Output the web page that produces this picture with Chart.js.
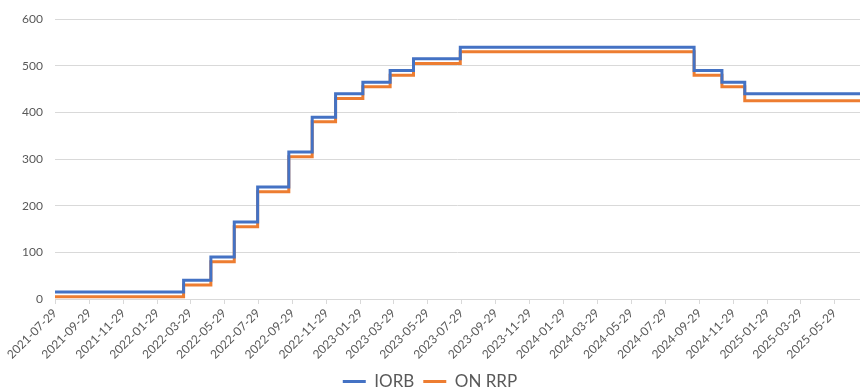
<!DOCTYPE html>
<html>
<head>
<meta charset="utf-8">
<script src="https://cdn.jsdelivr.net/npm/chart.js@4/dist/chart.umd.min.js"></script>
<style>
html,body{margin:0;padding:0;background:#fff;overflow:hidden;}
#wrap{position:relative;width:860px;height:400px;}
</style>
</head>
<body>
<div id="wrap"><canvas id="c"></canvas></div>
<script>
// Policy change dates and rates (basis points)
const changeDates = ["2021-07-29","2022-03-17","2022-05-05","2022-06-16","2022-07-28","2022-09-22","2022-11-03","2022-12-15","2023-02-02","2023-03-23","2023-05-04","2023-07-27","2024-09-19","2024-11-08","2024-12-19","2025-07-14"];
const iorb  = [15,40,90,165,240,315,390,440,465,490,515,540,490,465,440,440];
const onrrp = [5,30,80,155,230,305,380,430,455,480,505,530,480,455,425,425];
const tickLabels = ["2021-07-29","2021-09-29","2021-11-29","2022-01-29","2022-03-29","2022-05-29","2022-07-29","2022-09-29","2022-11-29","2023-01-29","2023-03-29","2023-05-29","2023-07-29","2023-09-29","2023-11-29","2024-01-29","2024-03-29","2024-05-29","2024-07-29","2024-09-29","2024-11-29","2025-01-29","2025-03-29","2025-05-29"];
const seriesNames = ["IORB","ON RRP"];
const seriesColors = ["#4472C4","#ED7D31"];

const DAY = 86400000;
const t0 = Date.parse(changeDates[0] + "T00:00:00Z");
const dayIdx = s => Math.round((Date.parse(s + "T00:00:00Z") - t0) / DAY);
const toPts = vals => changeDates.map((d, i) => ({x: dayIdx(d), y: vals[i]}));
const tickVals = tickLabels.map(dayIdx);

new Chart(document.getElementById('c'), {
  type: 'line',
  data: {
    datasets: [
      {label: seriesNames[0], data: toPts(iorb), borderColor: seriesColors[0], backgroundColor: seriesColors[0], borderWidth: 3, pointRadius: 0, stepped: true, fill: false},
      {label: seriesNames[1], data: toPts(onrrp), borderColor: seriesColors[1], backgroundColor: seriesColors[1], borderWidth: 3, pointRadius: 0, stepped: true, fill: false}
    ]
  },
  options: {
    responsive: true,
    maintainAspectRatio: false,
    animation: false,
    layout: {padding: {top: 14, right: 0, left: 0, bottom: 0}},
    plugins: {
      tooltip: {enabled: false},
      legend: {
        position: 'bottom',
        labels: {
          font: {family: 'Lato', size: 17},
          color: '#595959',
          boxWidth: 23,
          boxHeight: 3,
          padding: 9,
          generateLabels: chart => chart.data.datasets.map((ds, i) => ({
            text: ds.label, fillStyle: ds.borderColor, strokeStyle: ds.borderColor,
            lineWidth: 0, hidden: false, datasetIndex: i, fontColor: '#595959'
          }))
        }
      }
    },
    scales: {
      x: {
        type: 'linear',
        min: 0,
        max: dayIdx(changeDates[changeDates.length - 1]),
        afterBuildTicks: s => { s.ticks = tickVals.map(v => ({value: v})); },
        afterFit: s => { s.height = 65; },
        ticks: {
          autoSkip: false,
          minRotation: 45, maxRotation: 45,
          padding: 2,
          font: {family: 'Lato', size: 12},
          color: '#595959',
          callback: (v) => { const i = tickVals.indexOf(v); return i >= 0 ? tickLabels[i] : ''; }
        },
        grid: {drawOnChartArea: false, drawTicks: true, tickLength: 5, color: '#d9d9d9'},
        border: {display: true, color: '#d9d9d9'}
      },
      y: {
        min: 0, max: 600,
        afterFit: s => { s.width = 55; },
        ticks: {stepSize: 100, padding: 12, font: {family: 'Lato', size: 12}, color: '#595959'},
        grid: {color: '#d9d9d9', drawTicks: false},
        border: {display: false}
      }
    }
  }
});
</script>
</body>
</html>
